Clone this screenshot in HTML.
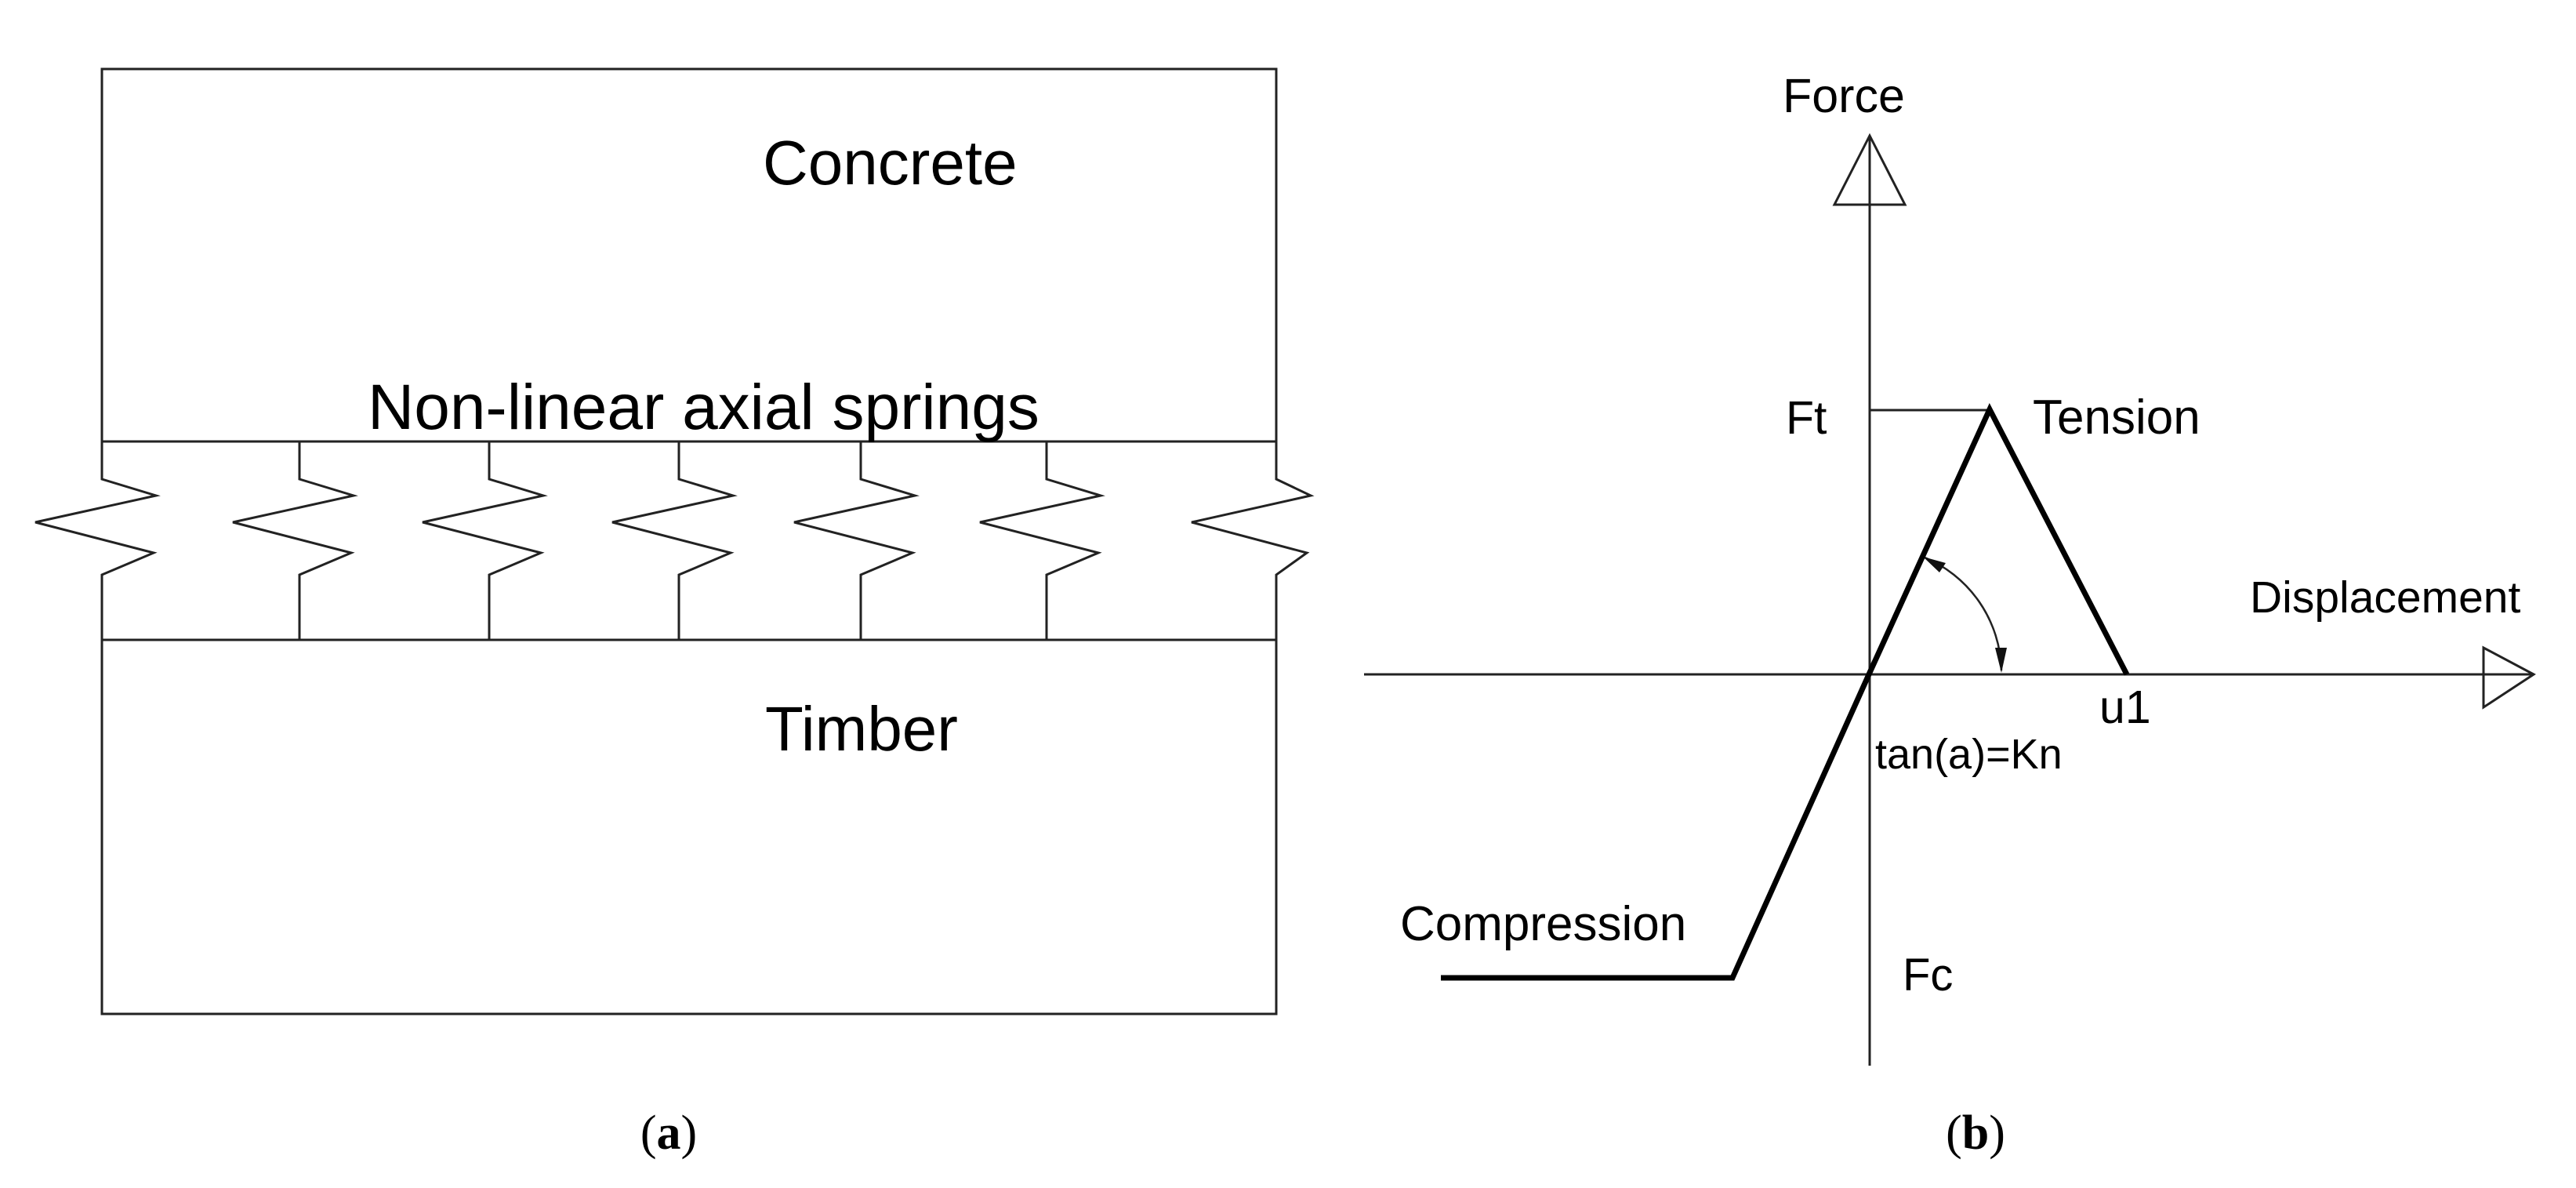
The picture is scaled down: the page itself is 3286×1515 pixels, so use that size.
<!DOCTYPE html>
<html><head><meta charset="utf-8"><style>
html,body{margin:0;padding:0;background:#fff;}
svg{display:block;}
text{font-family:"Liberation Sans",Arial,sans-serif;fill:#000;}
.cap{font-family:"Liberation Serif","Times New Roman",serif;}
</style></head><body>
<svg width="3286" height="1515" viewBox="0 0 3286 1515" xmlns="http://www.w3.org/2000/svg">
<g fill="none" stroke="#222" stroke-width="3">
  <rect x="130" y="88" width="1498" height="475"/>
  <rect x="130" y="816" width="1498" height="477"/>
  <polyline points="130,563 130,611 199,632 45,666 196,705 130,733 130,816"/>
  <polyline points="382,563 382,611 451,632 297,666 448,705 382,733 382,816"/>
  <polyline points="624,563 624,611 693,632 539,666 690,705 624,733 624,816"/>
  <polyline points="866,563 866,611 935,632 781,666 932,705 866,733 866,816"/>
  <polyline points="1098,563 1098,611 1167,632 1013,666 1164,705 1098,733 1098,816"/>
  <polyline points="1335,563 1335,611 1404,632 1250,666 1401,705 1335,733 1335,816"/>
  <polyline points="1628,563 1628,611 1672,632 1520,666 1667,705 1628,733 1628,816"/>
</g>
<text x="973" y="235" font-size="80">Concrete</text>
<text x="469" y="547" font-size="82">Non-linear axial springs</text>
<text x="976" y="957" font-size="80">Timber</text>
<text class="cap" x="853" y="1465" font-size="62" text-anchor="middle">(<tspan font-weight="bold">a</tspan>)</text>

<g fill="none" stroke="#222" stroke-width="3">
  <line x1="2385" y1="173" x2="2385" y2="1359"/>
  <polygon points="2385,173 2340,261 2430,261"/>
  <line x1="1740" y1="860" x2="3232" y2="860"/>
  <polygon points="3232,860 3168,826 3168,902"/>
  <line x1="2385" y1="523" x2="2538" y2="523"/>
  <path d="M2453,710 A160,160 0 0 1 2553,855" stroke-width="2.5"/>
</g>
<polygon points="2453,710 2482,718 2474,730" fill="#111"/>
<polygon points="2553,858 2545,826 2560,826" fill="#111"/>
<polyline points="2713,860 2538,522 2384,860 2210,1247 1838,1247" fill="none" stroke="#000" stroke-width="7" stroke-linejoin="miter"/>
<text x="2274" y="143" font-size="61">Force</text>
<text x="2278" y="553" font-size="59">Ft</text>
<text x="2593" y="553" font-size="62">Tension</text>
<text x="2870" y="781" font-size="57">Displacement</text>
<text x="2678" y="922" font-size="59">u1</text>
<text x="2392" y="980" font-size="54">tan(a)=Kn</text>
<text x="1786" y="1199" font-size="62">Compression</text>
<text x="2427" y="1263" font-size="58">Fc</text>
<text class="cap" x="2520" y="1465" font-size="62" text-anchor="middle">(<tspan font-weight="bold">b</tspan>)</text>
</svg>
</body></html>
